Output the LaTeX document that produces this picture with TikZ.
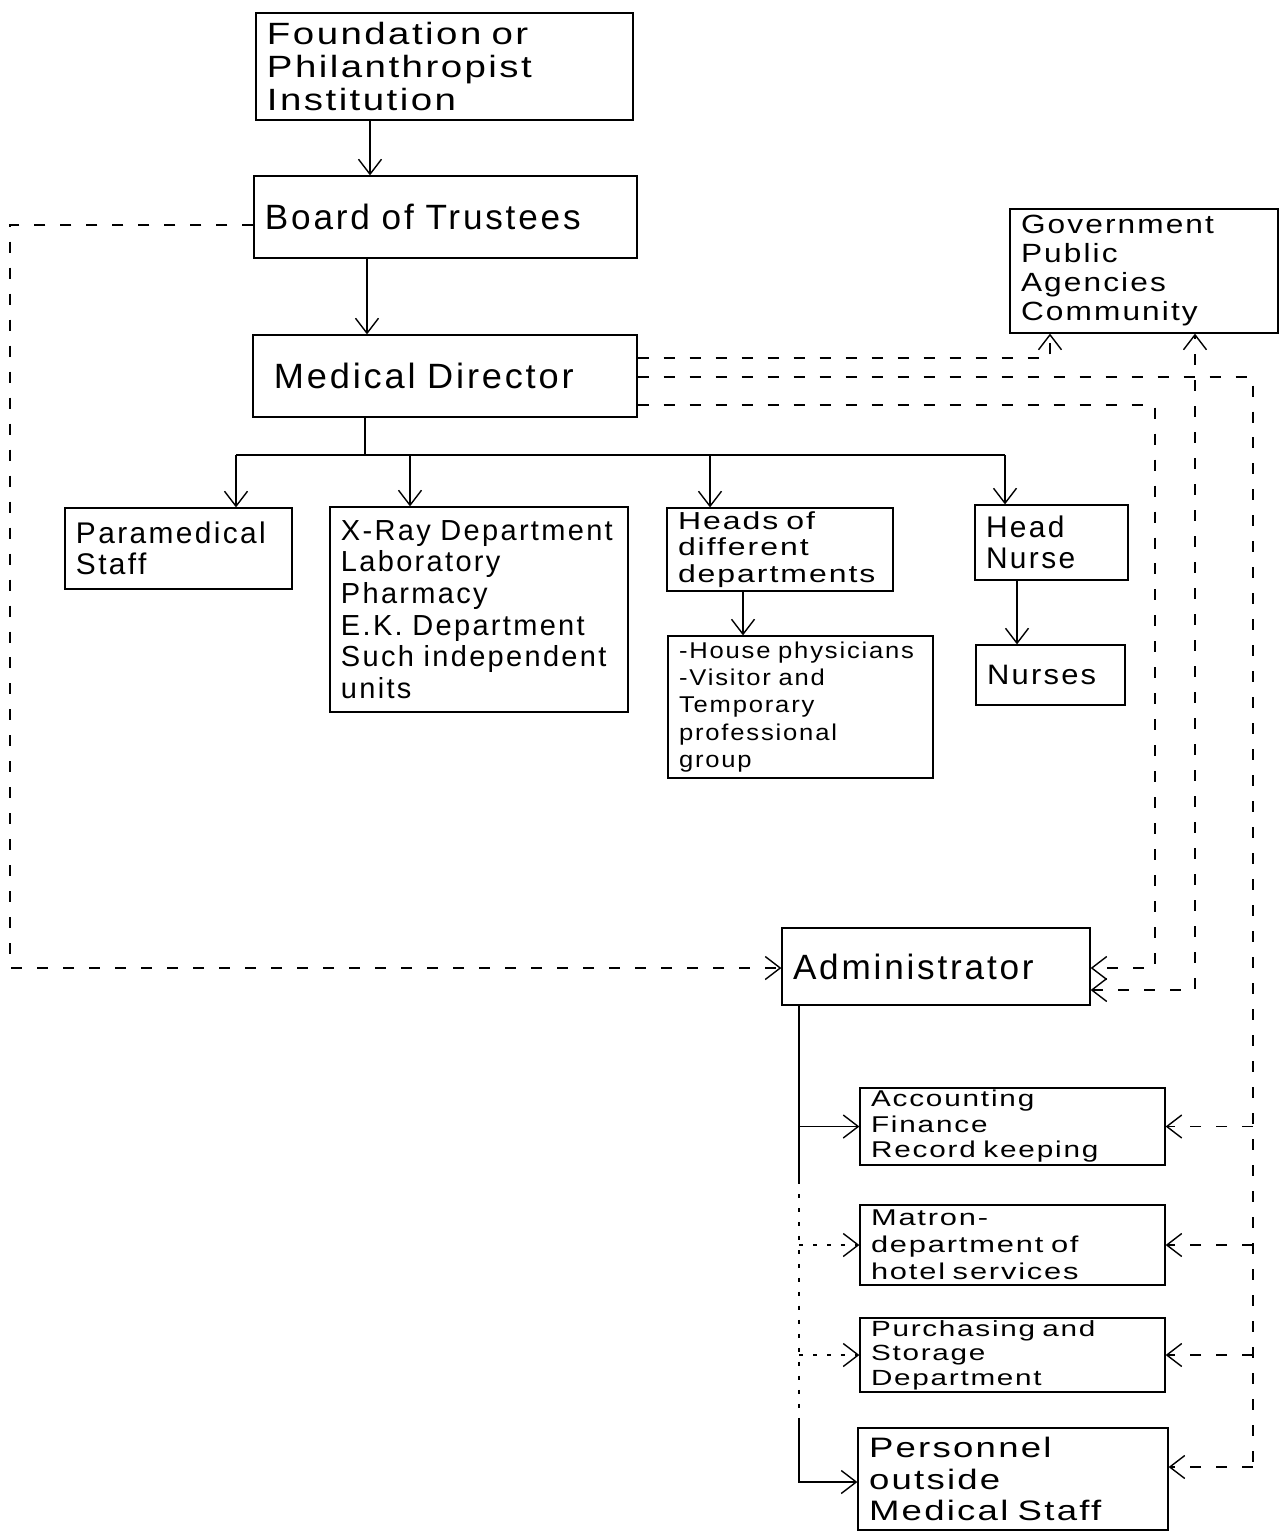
\documentclass[tikz,border=0pt]{standalone}
\usepackage{fontspec}
\setmainfont[LetterSpace=8]{Liberation Sans}
\usetikzlibrary{arrows.meta}

% box given by its corners (x1,y1)-(x2,y2), font size, line skip, text, horizontal stretch
\newcommand{\chartbox}[9]{%
  \pgfmathsetmacro\bxw{(#4-#2)*0.02}%
  \pgfmathsetmacro\bxh{(#5-#3)*0.02}%
  \pgfmathsetmacro\bxt{(#4-#2)*0.02-0.44}%
  \pgfmathsetmacro\bxc{(#2+#4)/2}%
  \pgfmathsetmacro\byc{(#3+#5)/2}%
  \node[box, font={\addfontfeatures{FakeStretch=#9}\fontsize{#6}{#7}\selectfont},
        minimum width=\bxw cm, minimum height=\bxh cm, text width=\bxt cm]
        (#1) at (\bxc,\byc) {#8};%
}

\tikzset{
  box/.style={draw, line width=0.7pt, inner xsep=0pt, inner ysep=0pt, align=left},
  link/.style={line width=0.8pt},
  arr/.style={link, -{Straight Barb[length=0.3cm,width=0.46cm]}},
  biarr/.style={link, {Straight Barb[length=0.3cm,width=0.46cm]}-{Straight Barb[length=0.3cm,width=0.46cm]}},
  dsh/.style={dash pattern=on 0.22cm off 0.3cm},
  dots/.style={dash pattern=on 0.08cm off 0.2cm},
}

\begin{document}
\begin{tikzpicture}[x=0.02cm, y=-0.02cm]
\useasboundingbox (0,0) rectangle (1281,1536);

% --- boxes ---
\chartbox{found}{256}{13}{633}{120}{17.5}{19}{Foundation or\\Philanthropist\\Institution}{1.25}
\chartbox{board}{254}{176}{637}{258}{20}{18}{Board of Trustees}{1.0}
\chartbox{md}{253}{335}{637}{417}{20}{18}{\hspace*{0.2cm}Medical Director}{1.03}
\chartbox{gov}{1010}{209}{1278}{333}{15}{16.5}{Government\\Public\\Agencies\\Community}{1.2}
\chartbox{para}{65}{508}{292}{589}{17}{18}{Paramedical\\Staff}{1.0}
\chartbox{xray}{330}{507}{628}{712}{16.5}{18}{X-Ray Department\\Laboratory\\Pharmacy\\E.K. Department\\Such independent\\units}{1.0}
\chartbox{heads}{667}{508}{893}{591}{14}{15.2}{Heads of\\different\\departments}{1.3}
\chartbox{house}{668}{636}{933}{778}{13}{15.5}{-House physicians\\-Visitor and\\Temporary\\professional\\group}{1.12}
\chartbox{hnurse}{975}{505}{1128}{580}{17}{18}{Head\\Nurse}{1.0}
\chartbox{nurses}{976}{645}{1125}{705}{16}{16}{Nurses}{1.1}
\chartbox{admin}{782}{928}{1090}{1005}{20}{18}{Administrator}{1.0}
\chartbox{acct}{860}{1088}{1165}{1165}{13}{14.5}{Accounting\\Finance\\Record keeping}{1.3}
\chartbox{matron}{860}{1205}{1165}{1285}{13}{15.5}{Matron-\\department of\\hotel services}{1.35}
\chartbox{purch}{860}{1318}{1165}{1392}{12.5}{14}{Purchasing and\\Storage\\Department}{1.35}
\chartbox{pers}{858}{1428}{1168}{1530}{16}{18}{Personnel\\outside\\Medical Staff}{1.3}

% --- reference coordinates for connector lanes ---
\coordinate (c1) at (370,0);
\coordinate (c2) at (367,0);
\coordinate (c3) at (365,0);
\coordinate (bus) at (0,455);
\coordinate (b1) at (236,0);
\coordinate (b2) at (410,0);
\coordinate (b3) at (710,0);
\coordinate (b4) at (1005,0);
\coordinate (h1) at (743,0);
\coordinate (n1) at (1017,0);
\coordinate (bw) at (0,225);
\coordinate (lft) at (10,0);
\coordinate (r1) at (0,358);
\coordinate (r2) at (0,377);
\coordinate (r3) at (0,405);
\coordinate (g1) at (1050,0);
\coordinate (g2) at (1195,0);
\coordinate (v3) at (1155,0);
\coordinate (v2) at (1253,0);
\coordinate (a1) at (0,968);
\coordinate (a2) at (0,990);
\coordinate (av) at (799,0);
\coordinate (s1) at (0,1180);
\coordinate (s2) at (0,1420);
\coordinate (pr) at (0,1467);
\coordinate (pl) at (0,1482);

% --- line of authority ---
\draw[arr] (found.south -| c1) -- (board.north -| c1);
\draw[arr] (board.south -| c2) -- (md.north -| c2);
\draw[link] (md.south -| c3) -- (bus -| c3);
\draw[link] (bus -| b1) -- (bus -| b4);
\draw[arr] (bus -| b1) -- (para.north -| b1);
\draw[arr] (bus -| b2) -- (xray.north -| b2);
\draw[arr] (bus -| b3) -- (heads.north -| b3);
\draw[arr] (bus -| b4) -- (hnurse.north -| b4);
\draw[arr] (heads.south -| h1) -- (house.north -| h1);
\draw[arr] (hnurse.south -| n1) -- (nurses.north -| n1);

% --- dashed relations ---
\draw[arr, dsh] (board.west |- bw) -- (lft |- bw) -- (lft |- a1) -- (admin.west |- a1);
\draw[arr, dsh] (md.east |- r1) -| (gov.south -| g1);
\draw[link, dsh] (md.east |- r2) -| (v2 |- pr);
\draw[arr, dsh] (v2 |- acct.east) -- (acct.east);
\draw[arr, dsh] (v2 |- matron.east) -- (matron.east);
\draw[arr, dsh] (v2 |- purch.east) -- (purch.east);
\draw[arr, dsh] (v2 |- pr) -- (pers.east |- pr);
\draw[arr, dsh] (md.east |- r3) -| (v3 |- a1) -- (admin.east |- a1);
\draw[biarr, dsh] (admin.east |- a2) -| (gov.south -| g2);

% --- administrator's departments ---
\draw[link] (admin.south -| av) -- (av |- s1);
\draw[link, dots] (av |- s1) -- (av |- s2);
\draw[arr] (av |- s2) -- (av |- pl) -- (pers.west |- pl);
\draw[arr] (av |- acct.west) -- (acct.west);
\draw[arr, dots] (av |- matron.west) -- (matron.west);
\draw[arr, dots] (av |- purch.west) -- (purch.west);
\end{tikzpicture}
\end{document}
